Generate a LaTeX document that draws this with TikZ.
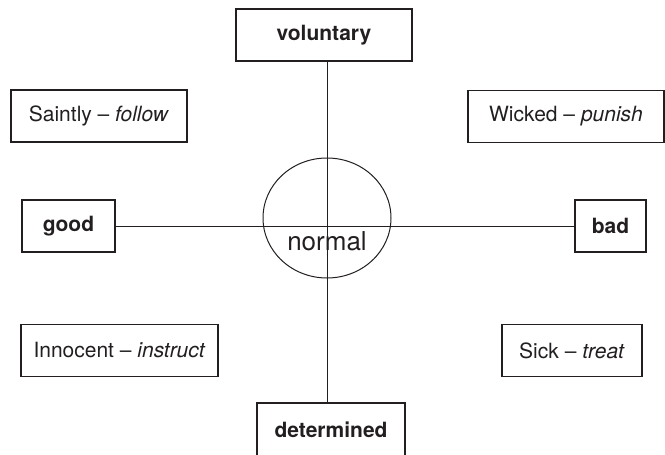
\documentclass[tikz,border=0pt]{standalone}
\usepackage{fontspec}
\setmainfont{TeX Gyre Heros}
\usetikzlibrary{shapes.geometric}
\definecolor{ink}{HTML}{231F20}
\newcommand\E[1]{\textit{#1}}

\begin{document}
\begin{tikzpicture}[x=0.5pt,y=-0.5pt,
    every node/.style={text=ink,font=\fontsize{10.5}{12}\selectfont},
    box/.style={draw=ink,line width=0.6pt,minimum height=26pt,inner sep=0pt},
    axis/.style={box,font=\fontsize{10.5}{12}\selectfont\bfseries}]
  \useasboundingbox (0,0) rectangle (665,455);
  % axis ends
  \node[axis,minimum width=88pt](vol) at (324,35) {voluntary};
  \node[axis,minimum width=74pt,minimum height=30pt,text depth=3pt](det) at (331,433) {determined};
  \node[axis,minimum width=46.5pt](good) at (68.5,226) {good};
  \node[axis,minimum width=35.5pt](bad) at (610.5,226) {bad};
  % quadrants
  \node[box,minimum width=88pt](saint) at (99,116) {Saintly -- \E{follow}};
  \node[box,minimum width=98pt](wick) at (566,116.5) {Wicked -- \E{punish}};
  \node[box,minimum width=98.5pt](inno) at (119.5,350.5) {Innocent -- \E{instruct}};
  \node[box,minimum width=70pt](sick) at (572,350.5) {Sick -- \E{treat}};
  % centre
  \node[ellipse,draw=ink,line width=0.5pt,minimum width=64pt,minimum height=60pt,inner sep=0pt](ring) at (327,218) {};
  \node[font=\fontsize{13}{15}\selectfont](norm) at (327,241) {normal};
  \draw[ink,line width=0.5pt] (good.east) -- (bad.west);
  \draw[ink,line width=0.5pt] (vol.south -| ring) -- (det.north -| ring);
\end{tikzpicture}
\end{document}
